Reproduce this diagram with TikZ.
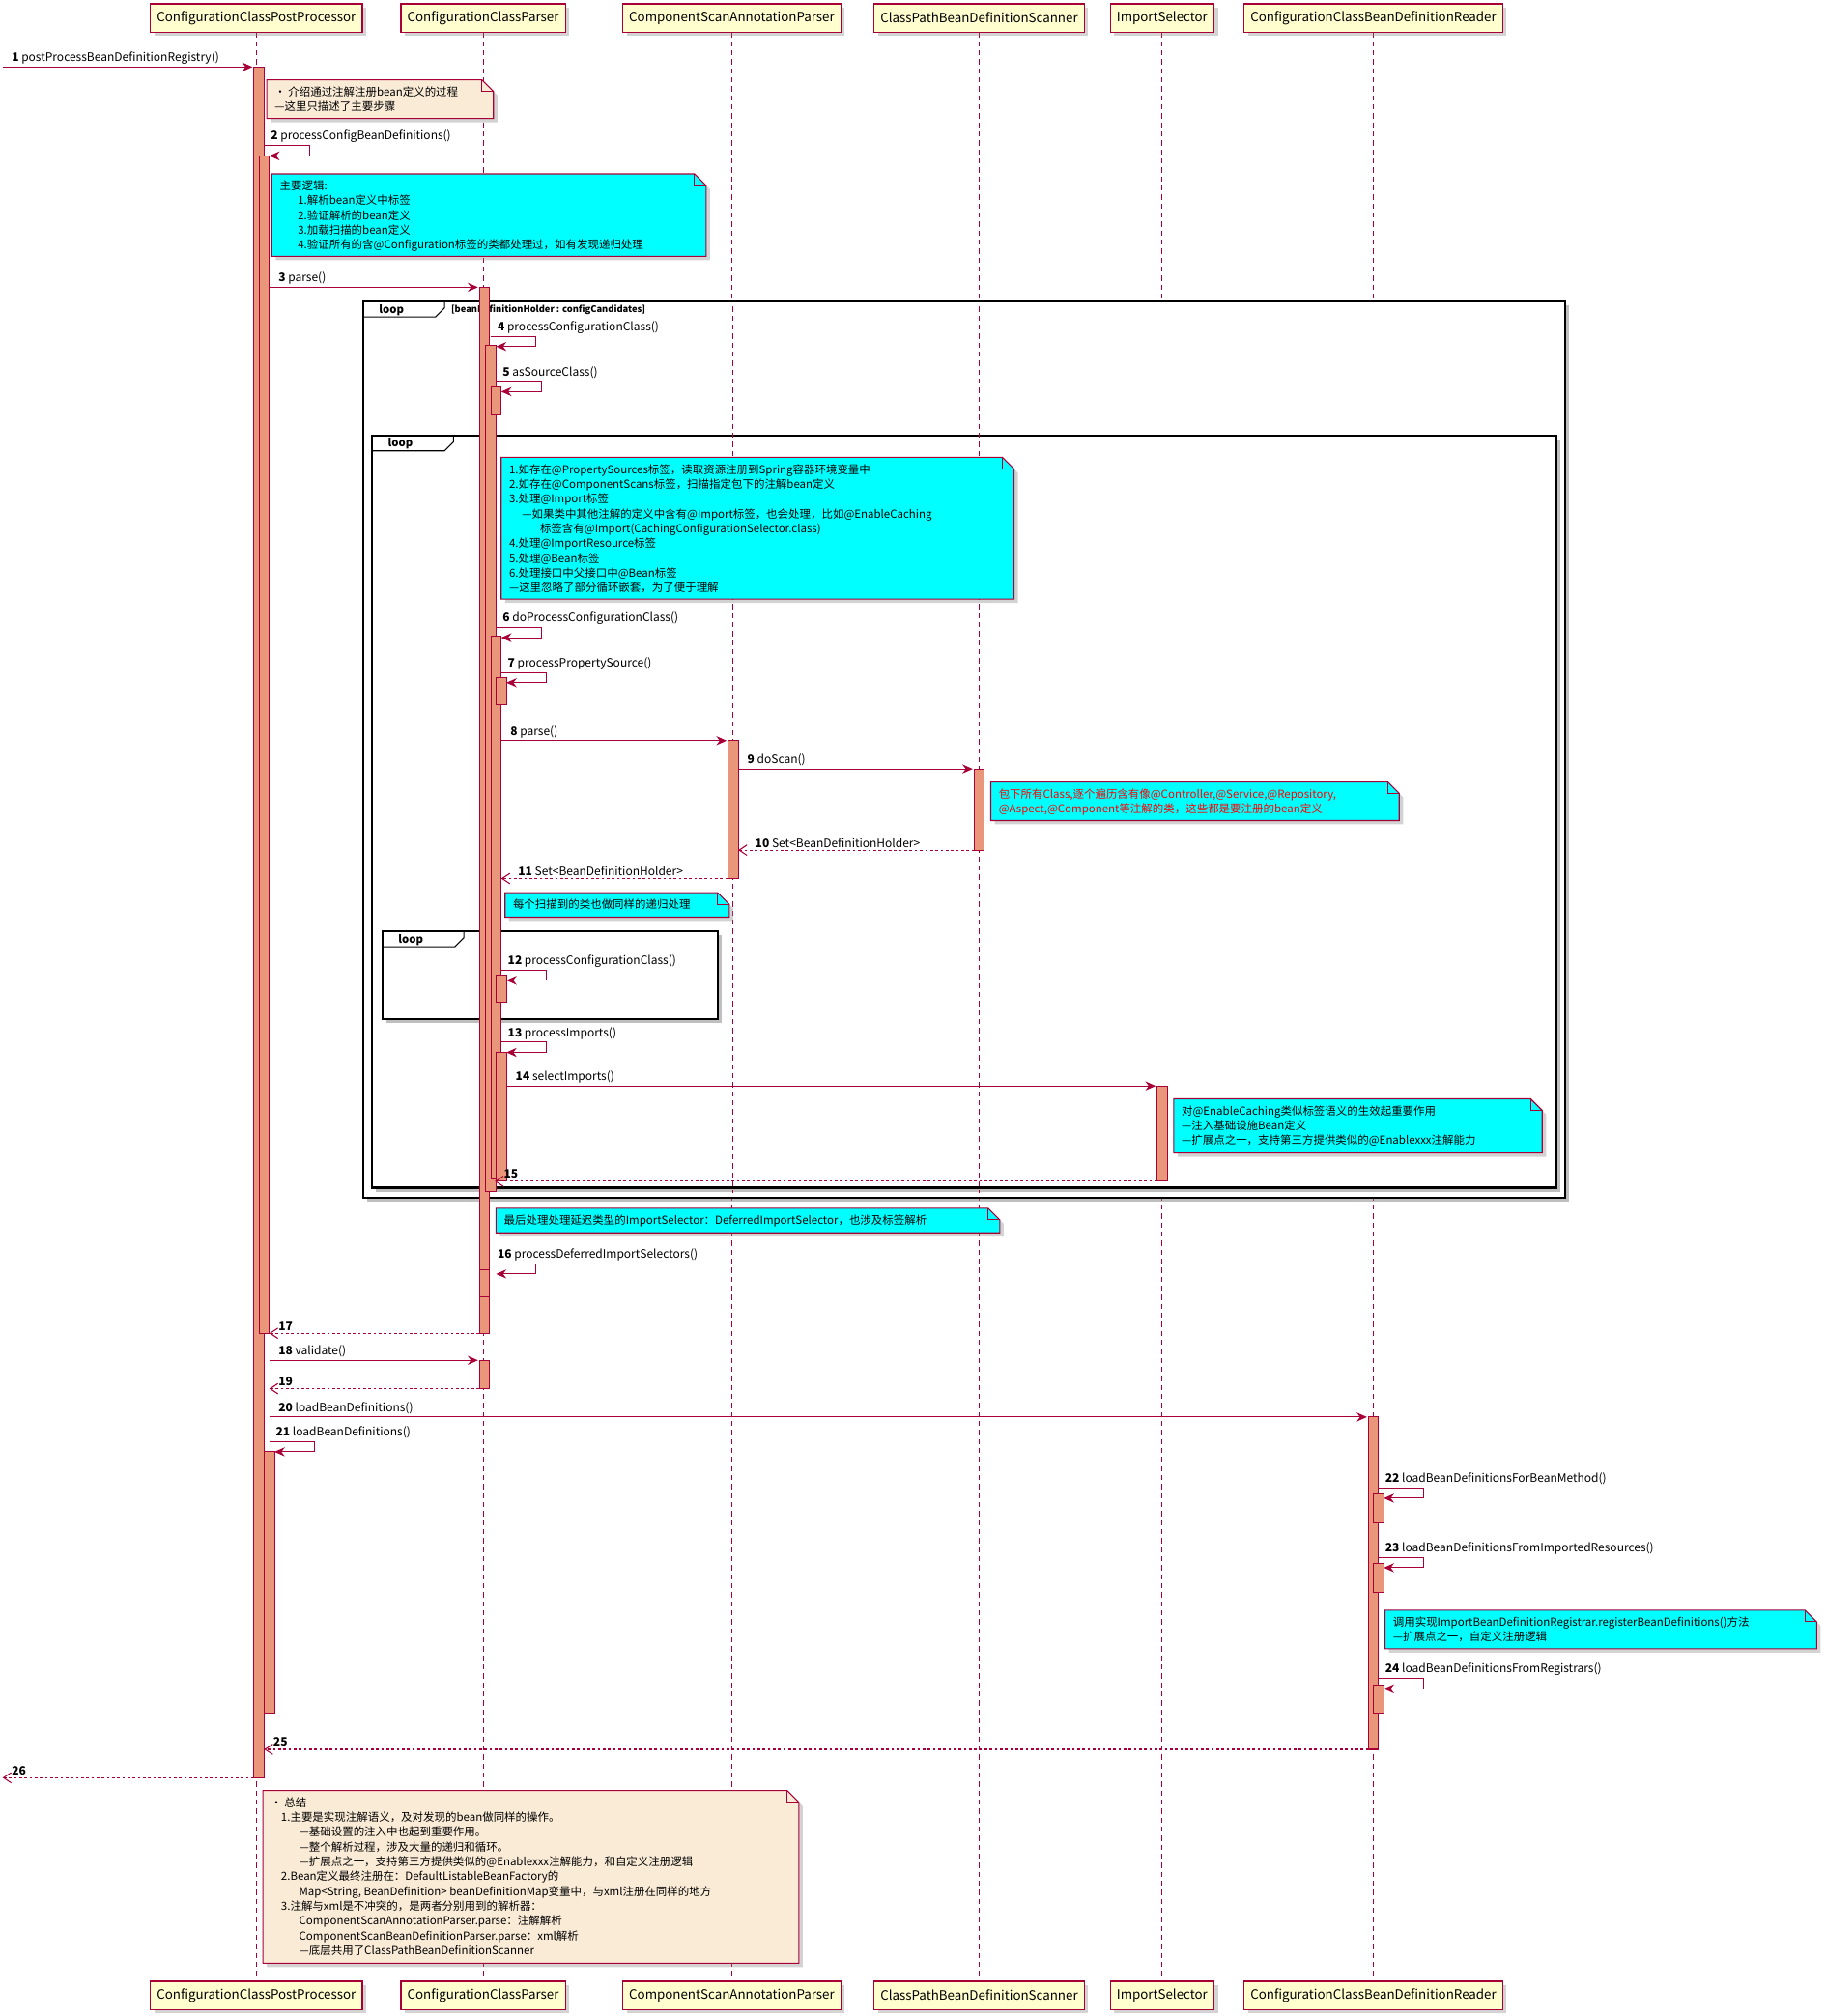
\documentclass[tikz,border=0pt]{standalone}
\usepackage{fontspec}
\setmainfont{Noto Sans CJK SC}
\usetikzlibrary{arrows.meta,shadows}
\definecolor{ln}{HTML}{A80036}
\definecolor{actf}{HTML}{E9967A}
\definecolor{partf}{HTML}{FEFECE}
\definecolor{notef}{HTML}{FAEBD7}
\definecolor{cyanf}{HTML}{00FFFF}
\tikzset{
  part/.style={draw=ln,fill=partf,line width=1pt,minimum height=22pt,inner xsep=5pt,font=\fontsize{10}{12}\selectfont,drop shadow={shadow xshift=3pt,shadow yshift=-3pt,opacity=0.35}},
  lifeline/.style={draw=ln,dashed,dash pattern=on 4pt off 3pt,line width=0.7pt},
  actbar/.style={draw=ln,fill=actf,line width=0.8pt},
  call/.style={draw=ln,line width=0.8pt,-{Stealth[length=8pt,width=7pt]}},
  ret/.style={draw=ln,line width=0.8pt,dash pattern=on 2pt off 2pt,-{Straight Barb[length=6pt,width=8pt]}},
  lbl/.style={anchor=south west,inner sep=1pt,font=\fontsize{9}{11}\selectfont},
  notetxt/.style={anchor=north west,align=left,inner sep=0pt,font=\fontsize{8.6}{11.5}\selectfont},
  frame/.style={draw=black,line width=1.6pt},
}
\newcommand\mymsg[5]{% style,y,x1,x2,label
  \draw[#1] (#3,#2) -- (#4,#2);
  \pgfmathsetmacro\lx{min(#3,#4)+6}
  \node[lbl] at (\lx,#2-1) {#5};}
\newcommand\myself[3]{% x,y,label
  \node[lbl] at (#1+4,#2-1) {#3};
  \draw[call] (#1,#2) -- (#1+35,#2) -- (#1+35,#2+8) -- (#1+4,#2+8);}
\newcommand\mybar[3]{\draw[actbar] (#1-4,#2) rectangle (#1+4,#3);}
\newcommand\mynote[6]{% fill,x1,y1,x2,y2,text
  \draw[ln,fill=#1,line width=0.8pt,drop shadow={shadow xshift=3pt,shadow yshift=-3pt,opacity=0.35}] (#2,#3) -- (#4-9,#3) -- (#4,#3+9) -- (#4,#5) -- (#2,#5) -- cycle;
  \draw[ln,line width=0.8pt] (#4-9,#3) -- (#4-9,#3+9) -- (#4,#3+9);
  \node[notetxt] at (#2+6,#3+5) {#6};}
\newcommand\myloop[6]{% x1,y1,x2,y2,label,cond
  \draw[frame,fill=white,drop shadow={shadow xshift=3pt,shadow yshift=-3pt,opacity=0.5}] (#1,#2) rectangle (#3,#4);
  \draw[black,line width=0.8pt] (#1,#2+12) -- (#1+56,#2+12) -- (#1+63,#2+5) -- (#1+63,#2);
  \node[anchor=west,inner sep=0pt,font=\fontsize{8.5}{10}\selectfont\bfseries] at (#1+12,#2+6.5) {#5};
  \node[anchor=west,inner sep=0pt,font=\fontsize{7}{9}\selectfont\bfseries] at (#1+68,#2+6.5) {#6};}
\begin{document}
\begin{tikzpicture}[x=1pt,y=-1pt]
\useasboundingbox (0,0) rectangle (1417,1565);
% participants
\foreach \n/\x/\t in {1/199/ConfigurationClassPostProcessor,2/375/ConfigurationClassParser,3/568/ComponentScanAnnotationParser,4/760/ClassPathBeanDefinitionScanner,5/902/ImportSelector,6/1066/ConfigurationClassBeanDefinitionReader}{
  \draw[lifeline] (\x,25) -- (\x,1537);
  \node[part] (pt\n) at (\x,14) {\t};
  \node[part] (pb\n) at (\x,1549) {\t};
}
% frames
\myloop{282}{234}{1215}{930}{loop}{[beanDefinitionHolder : configCandidates]}
\draw[ln,line width=0.8pt] (282,234) ++(0,0);
\myloop{289}{338}{1208}{922}{loop}{}
\myloop{297}{723}{557}{791}{loop}{}
\foreach \x in {376,569,760} {\draw[lifeline] (\x,238) -- (\x,926);}
% activations
\mybar{201}{52}{1380}
\mybar{205}{121}{1035}
\mybar{209}{1127}{1330}
\mybar{376}{223}{1035}
\mybar{381}{268}{925}
\mybar{385}{300}{322}
\mybar{385}{494}{915}
\mybar{389}{526}{547}
\mybar{389}{757}{778}
\mybar{389}{817}{917}
\mybar{569}{575}{682}
\mybar{760}{597}{660}
\mybar{902}{843}{917}
\mybar{376}{1056}{1078}
\mybar{376}{986}{1007}
\mybar{1066}{1100}{1358}
\mybar{1070}{1160}{1182}
\mybar{1070}{1214}{1236}
\mybar{1070}{1308}{1330}
% notes
\mynote{notef}{207}{62}{383}{92}{• 介绍通过注解注册bean定义的过程\\---这里只描述了主要步骤}
\mynote{cyanf}{211}{135}{548}{199}{主要逻辑:\\\hspace*{14pt}1.解析bean定义中标签\\\hspace*{14pt}2.验证解析的bean定义\\\hspace*{14pt}3.加载扫描的bean定义\\\hspace*{14pt}4.验证所有的含@Configuration标签的类都处理过，如有发现递归处理}
\mynote{cyanf}{389}{355}{787}{465}{1.如存在@PropertySources标签，读取资源注册到Spring容器环境变量中\\2.如存在@ComponentScans标签，扫描指定包下的注解bean定义\\3.处理@Import标签\\\hspace*{10pt}---如果类中其他注解的定义中含有@Import标签，也会处理，比如@EnableCaching\\\hspace*{24pt}标签含有@Import(CachingConfigurationSelector.class)\\4.处理@ImportResource标签\\5.处理@Bean标签\\6.处理接口中父接口中@Bean标签\\---这里忽略了部分循环嵌套，为了便于理解}
\mynote{cyanf}{769}{607}{1086}{637}{\color{red}包下所有Class,逐个遍历含有像@Controller,@Service,@Repository,\\\color{red}@Aspect,@Component等注解的类，这些都是要注册的bean定义}
\mynote{cyanf}{392}{693}{566}{712}{每个扫描到的类也做同样的递归处理}
\mynote{cyanf}{911}{853}{1197}{895}{对@EnableCaching类似标签语义的生效起重要作用\\---注入基础设施Bean定义\\---扩展点之一，支持第三方提供类似的@Enablexxx注解能力}
\mynote{cyanf}{385}{938}{776}{957}{最后处理处理延迟类型的ImportSelector：DeferredImportSelector，也涉及标签解析}
\mynote{cyanf}{1075}{1250}{1410}{1280}{调用实现ImportBeanDefinitionRegistrar.registerBeanDefinitions()方法\\---扩展点之一，自定义注册逻辑}
\mynote{notef}{204}{1390}{620}{1524}{• 总结\\\hspace*{8pt}1.主要是实现注解语义，及对发现的bean做同样的操作。\\\hspace*{22pt}---基础设置的注入中也起到重要作用。\\\hspace*{22pt}---整个解析过程，涉及大量的递归和循环。\\\hspace*{22pt}---扩展点之一，支持第三方提供类似的@Enablexxx注解能力，和自定义注册逻辑\\\hspace*{8pt}2.Bean定义最终注册在：DefaultListableBeanFactory的\\\hspace*{22pt}Map<String, BeanDefinition> beanDefinitionMap变量中，与xml注册在同样的地方\\\hspace*{8pt}3.注解与xml是不冲突的，是两者分别用到的解析器：\\\hspace*{22pt}ComponentScanAnnotationParser.parse：注解解析\\\hspace*{22pt}ComponentScanBeanDefinitionParser.parse：xml解析\\\hspace*{22pt}---底层共用了ClassPathBeanDefinitionScanner}
% messages
\mymsg{call}{52}{2}{196}{\textbf{1} postProcessBeanDefinitionRegistry()}
\myself{205}{113}{\textbf{2} processConfigBeanDefinitions()}
\mymsg{call}{223}{209}{371}{\textbf{3} parse()}
\myself{381}{261}{\textbf{4} processConfigurationClass()}
\myself{385}{296}{\textbf{5} asSourceClass()}
\myself{385}{487}{\textbf{6} doProcessConfigurationClass()}
\myself{389}{522}{\textbf{7} processPropertySource()}
\mymsg{call}{575}{389}{564}{\textbf{8} parse()}
\mymsg{call}{597}{573}{755}{\textbf{9} doScan()}
\mymsg{ret}{660}{756}{573}{\hspace*{6pt}\textbf{10} Set<BeanDefinitionHolder>}
\mymsg{ret}{682}{565}{389}{\hspace*{6pt}\textbf{11} Set<BeanDefinitionHolder>}
\myself{389}{753}{\textbf{12} processConfigurationClass()}
\myself{389}{809}{\textbf{13} processImports()}
\mymsg{call}{843}{393}{897}{\textbf{14} selectImports()}
\mymsg{ret}{917}{898}{384}{\textbf{15}}
\myself{381}{981}{\textbf{16} processDeferredImportSelectors()}
\mymsg{ret}{1035}{372}{209}{\textbf{17}}
\mymsg{call}{1056}{209}{371}{\textbf{18} validate()}
\mymsg{ret}{1078}{372}{209}{\textbf{19}}
\mymsg{call}{1100}{209}{1061}{\textbf{20} loadBeanDefinitions()}
\myself{209}{1119}{\textbf{21} loadBeanDefinitions()}
\myself{1070}{1155}{\textbf{22} loadBeanDefinitionsForBeanMethod()}
\myself{1070}{1209}{\textbf{23} loadBeanDefinitionsFromImportedResources()}
\myself{1070}{1303}{\textbf{24} loadBeanDefinitionsFromRegistrars()}
\mymsg{ret}{1358}{1062}{205}{\textbf{25}}
\mymsg{ret}{1380}{197}{2}{\textbf{26}}
\end{tikzpicture}
\end{document}
